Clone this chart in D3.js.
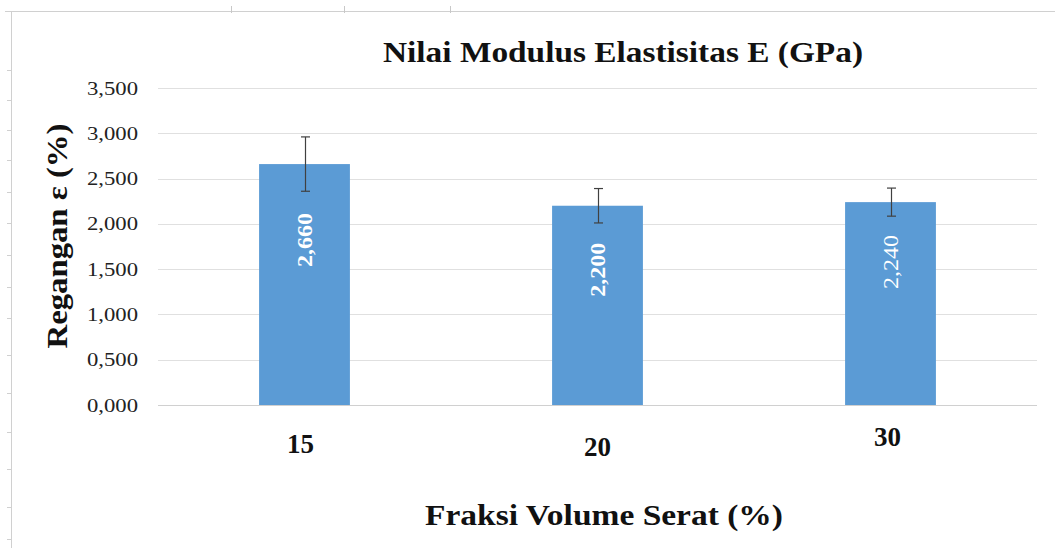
<!DOCTYPE html>
<html>
<head>
<meta charset="utf-8">
<script src="https://cdn.jsdelivr.net/npm/d3@7"></script>
<style>
  body { margin: 0; background: #fff; }
  svg text { font-family: "Liberation Serif", "Times New Roman", serif; }
</style>
</head>
<body>
<div class="chart"></div>
<script>
// data
var categories = ["15", "20", "30"];
var values = [2.660, 2.200, 2.240];
var errors = [0.300, 0.190, 0.155];
var yTicks = [0, 0.5, 1, 1.5, 2, 2.5, 3, 3.5];

var svgWidth = 1055;
var svgHeight = 548;

var margin = { top: 88, right: 18, bottom: 143, left: 158 };
var width = svgWidth - margin.left - margin.right;
var height = svgHeight - margin.top - margin.bottom;

var svg = d3.select(".chart")
  .append("svg")
  .attr("width", svgWidth)
  .attr("height", svgHeight);

// page frame (the thin border with little ruler ticks)
svg.append("line")
  .attr("x1", 5).attr("x2", svgWidth).attr("y1", 11.5).attr("y2", 11.5)
  .attr("stroke", "#d0d0d0");
svg.append("line")
  .attr("x1", 11.5).attr("x2", 11.5).attr("y1", 11).attr("y2", svgHeight)
  .attr("stroke", "#d0d0d0");
[231, 344, 450].forEach(function(x) {
  svg.append("line")
    .attr("x1", x + 0.5).attr("x2", x + 0.5).attr("y1", 6).attr("y2", 13)
    .attr("stroke", "#c8c8c8");
});
[70, 100, 130, 160, 192, 223, 255, 287, 318, 355, 393, 432, 469, 507, 539].forEach(function(y) {
  svg.append("line")
    .attr("x1", 7).attr("x2", 12).attr("y1", y + 0.5).attr("y2", y + 0.5)
    .attr("stroke", "#d0d0d0");
});

var chartGroup = svg.append("g")
  .attr("transform", `translate(${margin.left}, ${margin.top})`);

var xBandScale = d3.scaleBand()
  .domain(categories)
  .range([0, width])
  .paddingInner(0.69)
  .paddingOuter(0.345);

var yLinearScale = d3.scaleLinear()
  .domain([0, 3.5])
  .range([height, 0]);

// gridlines
chartGroup.append("g")
  .selectAll("line")
  .data(yTicks)
  .enter()
  .append("line")
  .attr("x1", 0)
  .attr("x2", width)
  .attr("y1", d => Math.round(yLinearScale(d)) + 0.5)
  .attr("y2", d => Math.round(yLinearScale(d)) + 0.5)
  .attr("stroke", d => d === 0 ? "#d0d0d0" : "#e0e0e0");

// y axis labels
var leftAxis = d3.axisLeft(yLinearScale)
  .tickValues(yTicks)
  .tickSize(0)
  .tickPadding(20)
  .tickFormat(d => d3.format(".3f")(d).replace(".", ","));

var yAxis = chartGroup.append("g").call(leftAxis);
yAxis.select(".domain").remove();
yAxis.selectAll("text")
  .attr("font-size", "19px")
  .attr("fill", "#222")
  .attr("textLength", 51)
  .attr("lengthAdjust", "spacingAndGlyphs")
  .style("font-family", "'Liberation Serif', serif");

// bars
chartGroup.selectAll("rect.bar")
  .data(values)
  .enter()
  .append("rect")
  .attr("class", "bar")
  .attr("x", (d, i) => xBandScale(categories[i]))
  .attr("y", d => yLinearScale(d))
  .attr("width", xBandScale.bandwidth())
  .attr("height", d => height - yLinearScale(d))
  .attr("fill", "#5B9BD5");

// error bars
var errG = chartGroup.append("g")
  .attr("stroke", "#404040")
  .attr("stroke-width", 1.2);
values.forEach(function(v, i) {
  var cx = Math.round(xBandScale(categories[i]) + xBandScale.bandwidth() / 2) + 0.5;
  var yTop = yLinearScale(v + errors[i]);
  var yBot = yLinearScale(v - errors[i]);
  errG.append("line").attr("x1", cx).attr("x2", cx).attr("y1", yTop).attr("y2", yBot);
  errG.append("line").attr("x1", cx - 4.5).attr("x2", cx + 4.5).attr("y1", yTop).attr("y2", yTop);
  errG.append("line").attr("x1", cx - 4.5).attr("x2", cx + 4.5).attr("y1", yBot).attr("y2", yBot);
});

// value labels inside bars, rotated (each sits a bit differently in the original)
var valShift = [76, 64, 60];
var valWeight = ["bold", "bold", "normal"];
chartGroup.selectAll("text.val")
  .data(values)
  .enter()
  .append("text")
  .attr("class", "val")
  .attr("transform", (d, i) => {
    var cx = xBandScale(categories[i]) + xBandScale.bandwidth() / 2;
    var cy = yLinearScale(d) + valShift[i];
    return `translate(${cx}, ${cy}) rotate(-90)`;
  })
  .attr("text-anchor", "middle")
  .attr("dy", "0.35em")
  .attr("fill", "#fff")
  .attr("font-size", "21px")
  .attr("font-weight", (d, i) => valWeight[i])
  .attr("textLength", 54)
  .attr("lengthAdjust", "spacingAndGlyphs")
  .text(d => d3.format(".3f")(d).replace(".", ","));

// category labels (placed by hand in the original)
var labelShift = [{ dx: -4, dy: 0 }, { dx: 0, dy: 3 }, { dx: -3, dy: -7 }];
chartGroup.selectAll("text.cat")
  .data(categories)
  .enter()
  .append("text")
  .attr("class", "cat")
  .attr("x", (d, i) => xBandScale(d) + xBandScale.bandwidth() / 2 + labelShift[i].dx)
  .attr("y", (d, i) => height + 48 + labelShift[i].dy)
  .attr("text-anchor", "middle")
  .attr("font-size", "27px")
  .attr("font-weight", "bold")
  .attr("fill", "#111")
  .text(d => d);

// titles
svg.append("text")
  .attr("x", 623)
  .attr("y", 62)
  .attr("text-anchor", "middle")
  .attr("font-size", "30px")
  .attr("font-weight", "bold")
  .attr("fill", "#111")
  .attr("textLength", 480)
  .attr("lengthAdjust", "spacingAndGlyphs")
  .text("Nilai Modulus Elastisitas E (GPa)");

svg.append("text")
  .attr("transform", "translate(67, 236) rotate(-90)")
  .attr("text-anchor", "middle")
  .attr("font-size", "30px")
  .attr("font-weight", "bold")
  .attr("fill", "#111")
  .attr("textLength", 225)
  .attr("lengthAdjust", "spacingAndGlyphs")
  .text("Regangan ε (%)");

svg.append("text")
  .attr("x", 604)
  .attr("y", 525)
  .attr("text-anchor", "middle")
  .attr("font-size", "30px")
  .attr("font-weight", "bold")
  .attr("fill", "#111")
  .attr("textLength", 358)
  .attr("lengthAdjust", "spacingAndGlyphs")
  .text("Fraksi Volume Serat (%)");
</script>
</body>
</html>
